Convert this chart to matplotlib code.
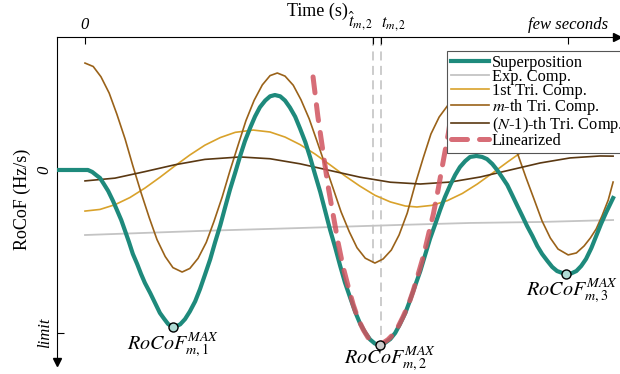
import numpy as np
import matplotlib.pyplot as plt

plt.rcParams['font.family'] = ['Liberation Serif', 'DejaVu Serif']
plt.rcParams['mathtext.fontset'] = 'stix'

# time: 0 = disturbance, 1 = "few seconds"; RoCoF: 0 = zero, -1 = limit
superposition = [
    (-0.058, 0), (0.006, 0), (0.015, -0.012), (0.023, -0.031), (0.031, -0.049),
    (0.039, -0.086), (0.048, -0.129), (0.058, -0.190), (0.066, -0.245), (0.075, -0.307),
    (0.083, -0.374), (0.091, -0.442), (0.099, -0.515), (0.108, -0.577), (0.116, -0.638),
    (0.124, -0.693), (0.135, -0.755), (0.145, -0.816), (0.155, -0.877), (0.164, -0.914),
    (0.172, -0.945), (0.182, -0.963), (0.188, -0.960), (0.197, -0.947), (0.207, -0.915),
    (0.217, -0.868), (0.228, -0.806), (0.238, -0.731), (0.248, -0.645), (0.259, -0.549),
    (0.269, -0.446), (0.280, -0.339), (0.290, -0.229), (0.300, -0.121), (0.311, -0.015),
    (0.321, 0.085), (0.331, 0.177), (0.342, 0.260), (0.352, 0.329), (0.362, 0.385),
    (0.373, 0.426), (0.383, 0.452), (0.393, 0.460), (0.404, 0.452), (0.414, 0.426),
    (0.424, 0.384), (0.435, 0.327), (0.445, 0.255), (0.456, 0.171), (0.466, 0.077),
    (0.476, -0.026), (0.487, -0.136), (0.497, -0.250), (0.507, -0.364), (0.518, -0.477),
    (0.528, -0.587), (0.538, -0.690), (0.549, -0.785), (0.559, -0.869), (0.569, -0.940),
    (0.580, -0.998), (0.590, -1.040), (0.600, -1.065), (0.611, -1.074), (0.621, -1.061),
    (0.632, -1.037), (0.642, -1.000), (0.652, -0.945), (0.663, -0.877), (0.673, -0.798),
    (0.683, -0.712), (0.694, -0.620), (0.704, -0.521), (0.714, -0.423), (0.725, -0.331),
    (0.735, -0.245), (0.745, -0.166), (0.756, -0.092), (0.766, -0.031), (0.776, 0.018),
    (0.787, 0.055), (0.797, 0.080), (0.810, 0.086), (0.822, 0.080), (0.832, 0.067),
    (0.843, 0.037), (0.853, 0.0), (0.863, -0.043), (0.874, -0.092), (0.884, -0.153),
    (0.894, -0.215), (0.905, -0.282), (0.915, -0.344), (0.926, -0.405), (0.936, -0.466),
    (0.946, -0.515), (0.957, -0.558), (0.967, -0.595), (0.977, -0.620), (0.988, -0.632),
    (0.996, -0.638), (1.006, -0.635), (1.017, -0.620), (1.027, -0.589), (1.037, -0.546),
    (1.048, -0.479), (1.058, -0.405), (1.068, -0.331), (1.079, -0.258), (1.093, -0.172)]

exp_comp = [(0, -0.399), (0.238, -0.374), (0.445, -0.356), (0.652, -0.337),
            (0.797, -0.325), (0.942, -0.319), (1.093, -0.307)]

tri_1st = [
    (0, -0.252), (0.031, -0.242), (0.062, -0.213), (0.093, -0.169), (0.124, -0.111),
    (0.155, -0.045), (0.186, 0.025), (0.217, 0.092), (0.248, 0.152), (0.280, 0.199),
    (0.311, 0.231), (0.348, 0.245), (0.383, 0.233), (0.414, 0.202), (0.445, 0.156),
    (0.476, 0.098), (0.507, 0.032), (0.538, -0.036), (0.569, -0.099), (0.600, -0.155),
    (0.632, -0.196), (0.663, -0.221), (0.687, -0.227), (0.718, -0.217), (0.750, -0.188),
    (0.781, -0.144), (0.812, -0.086), (0.843, -0.020), (0.874, 0.048), (0.905, 0.113),
    (0.936, 0.169), (0.967, 0.212), (0.998, 0.238), (1.025, 0.245), (1.060, 0.233),
    (1.093, 0.199)]

tri_mth = [
    (0, 0.656), (0.017, 0.635), (0.033, 0.572), (0.050, 0.472), (0.066, 0.342),
    (0.083, 0.190), (0.099, 0.026), (0.116, -0.139), (0.133, -0.293), (0.149, -0.427),
    (0.166, -0.531), (0.182, -0.599), (0.201, -0.626), (0.217, -0.604), (0.234, -0.542),
    (0.251, -0.444), (0.267, -0.315), (0.284, -0.165), (0.300, -0.005), (0.317, 0.154),
    (0.333, 0.302), (0.350, 0.427), (0.367, 0.522), (0.383, 0.579), (0.398, 0.595),
    (0.414, 0.576), (0.431, 0.520), (0.447, 0.431), (0.464, 0.314), (0.480, 0.178),
    (0.497, 0.031), (0.514, -0.117), (0.530, -0.257), (0.547, -0.379), (0.563, -0.477),
    (0.580, -0.541), (0.600, -0.571), (0.617, -0.546), (0.634, -0.491), (0.650, -0.399),
    (0.667, -0.264), (0.683, -0.092), (0.700, 0.074), (0.716, 0.221), (0.733, 0.325),
    (0.750, 0.393), (0.766, 0.466), (0.783, 0.521), (0.797, 0.552), (0.814, 0.534),
    (0.830, 0.483), (0.847, 0.401), (0.863, 0.294), (0.880, 0.209), (0.897, 0.086),
    (0.913, -0.049), (0.930, -0.184), (0.946, -0.313), (0.963, -0.417), (0.979, -0.485),
    (1.000, -0.521), (1.017, -0.509), (1.033, -0.466), (1.046, -0.417), (1.058, -0.362),
    (1.070, -0.282), (1.083, -0.184), (1.093, -0.074)]

tri_nth = [
    (0, -0.067), (0.062, -0.050), (0.124, -0.010), (0.186, 0.032), (0.248, 0.065),
    (0.321, 0.080), (0.383, 0.069), (0.445, 0.038), (0.507, -0.003), (0.569, -0.044),
    (0.632, -0.075), (0.694, -0.086), (0.756, -0.074), (0.818, -0.043), (0.880, 0.0),
    (0.942, 0.043), (1.004, 0.074), (1.066, 0.086), (1.093, 0.085)]

linearized = [
    (0.472, 0.571), (0.482, 0.328), (0.493, 0.104), (0.503, -0.098), (0.514, -0.282),
    (0.524, -0.448), (0.534, -0.593), (0.545, -0.718), (0.555, -0.825), (0.565, -0.912),
    (0.576, -0.980), (0.586, -1.029), (0.596, -1.058), (0.607, -1.067), (0.617, -1.061),
    (0.627, -1.041), (0.638, -1.008), (0.648, -0.962), (0.658, -0.902), (0.669, -0.830),
    (0.679, -0.744), (0.689, -0.645), (0.700, -0.533), (0.710, -0.408), (0.721, -0.270),
    (0.731, -0.118), (0.741, 0.047), (0.752, 0.225), (0.762, 0.417)]

t_max = [0.182, 0.611, 0.996]
rocof_max = [-0.963, -1.074, -0.638]
max_labels = [r'$RoCoF^{MAX}_{m,1}$', r'$RoCoF^{MAX}_{m,2}$', r'$RoCoF^{MAX}_{m,3}$']

t_hat, t_m2 = 0.596, 0.612
xtick_pos = [0, t_hat, t_m2, 1.0]
xtick_lbl = ['0', r'$\hat{t}_{m,2}$', r'$t_{m,2}$', 'few seconds']
ytick_pos = [0, -1]
ytick_lbl = ['0', 'limit']


def xy(pts):
    a = np.array(pts)
    return a[:, 0], a[:, 1]


fig = plt.figure(figsize=(6.2, 3.74), dpi=100)
ax = fig.add_axes([0.0919, 0.0321, 0.9032, 0.869])

ax.plot(*xy(exp_comp), color='#c4c4c4', lw=1.3, label='Exp. Comp.', zorder=2)
ax.plot(*xy(tri_1st), color='#d9a22b', lw=1.2, label='1st Tri. Comp.', zorder=2)
ax.plot(*xy(tri_mth), color='#9a6219', lw=1.2, label=r'$m$-th Tri. Comp.', zorder=2)
ax.plot(*xy(tri_nth), color='#5a3812', lw=1.2, label=r'($N$-1)-th Tri. Comp.', zorder=2)
ax.plot(*xy(superposition), color='#1e8a7c', lw=3.0, label='Superposition', zorder=3,
        solid_joinstyle='round')
ax.plot(*xy(linearized), color='#d0545f', lw=3.6, alpha=0.85, dashes=(3.2, 2.4),
        dash_capstyle='round', label='Linearized', zorder=4)

ax.plot([t_hat, t_hat], [0.816, -0.58], color='#c8c8c8', lw=1.3, dashes=(5, 3), zorder=1)
ax.plot([t_m2, t_m2], [0.816, -1.06], color='#c8c8c8', lw=1.3, dashes=(5, 3), zorder=1)

face = ['#b0dcd5', '#cccccc', '#b0dcd5']
for i in range(3):
    ax.plot(t_max[i], rocof_max[i], 'o', ms=6.5, mfc=face[i], mec='black', mew=1.0, zorder=5)
offs = [(0, -13), (7, -10), (4, -12)]
for i in range(3):
    ax.annotate(max_labels[i], (t_max[i], rocof_max[i]), xytext=offs[i],
                textcoords='offset points', ha='center', va='center', fontsize=14.5)

ax.set_xlim(-0.058, 1.101)
ax.set_ylim(-1.178, 0.816)

for s in ['right', 'bottom']:
    ax.spines[s].set_visible(False)
ax.xaxis.tick_top()
ax.xaxis.set_label_position('top')
ax.set_xticks(xtick_pos)
ax.set_xticklabels(xtick_lbl, fontsize=12, fontstyle='italic')
lbls = ax.get_xticklabels()
lbls[1].set_ha('right')
lbls[2].set_ha('left')
ax.set_yticks(ytick_pos)
ax.set_yticklabels(ytick_lbl, fontsize=12, fontstyle='italic', rotation=90, va='center')
ax.tick_params(axis='both', direction='in', length=5, width=0.8, pad=3)
ax.set_xlabel('Time (s)', fontsize=13)
ax.xaxis.set_label_coords(0.466, 1.066)
ax.set_ylabel('RoCoF (Hz/s)', fontsize=13)

ax.plot(1, 1, '>', color='black', ms=6, transform=ax.transAxes, clip_on=False)
ax.plot(0, 0, 'v', color='black', ms=6, transform=ax.transAxes, clip_on=False)

h, l = ax.get_legend_handles_labels()
order = [4, 0, 1, 2, 3, 5]
leg = ax.legend([h[i] for i in order], [l[i] for i in order], loc='upper left',
                bbox_to_anchor=(0.696, 0.957), fontsize=11.8, frameon=True, fancybox=False,
                framealpha=1, edgecolor='#555555', handlelength=2.3, labelspacing=-0.12,
                borderpad=0.25, handletextpad=0.2, borderaxespad=0)
leg.set_zorder(10)
leg.get_frame().set_linewidth(0.8)

fig.savefig('out.png', dpi=100)
